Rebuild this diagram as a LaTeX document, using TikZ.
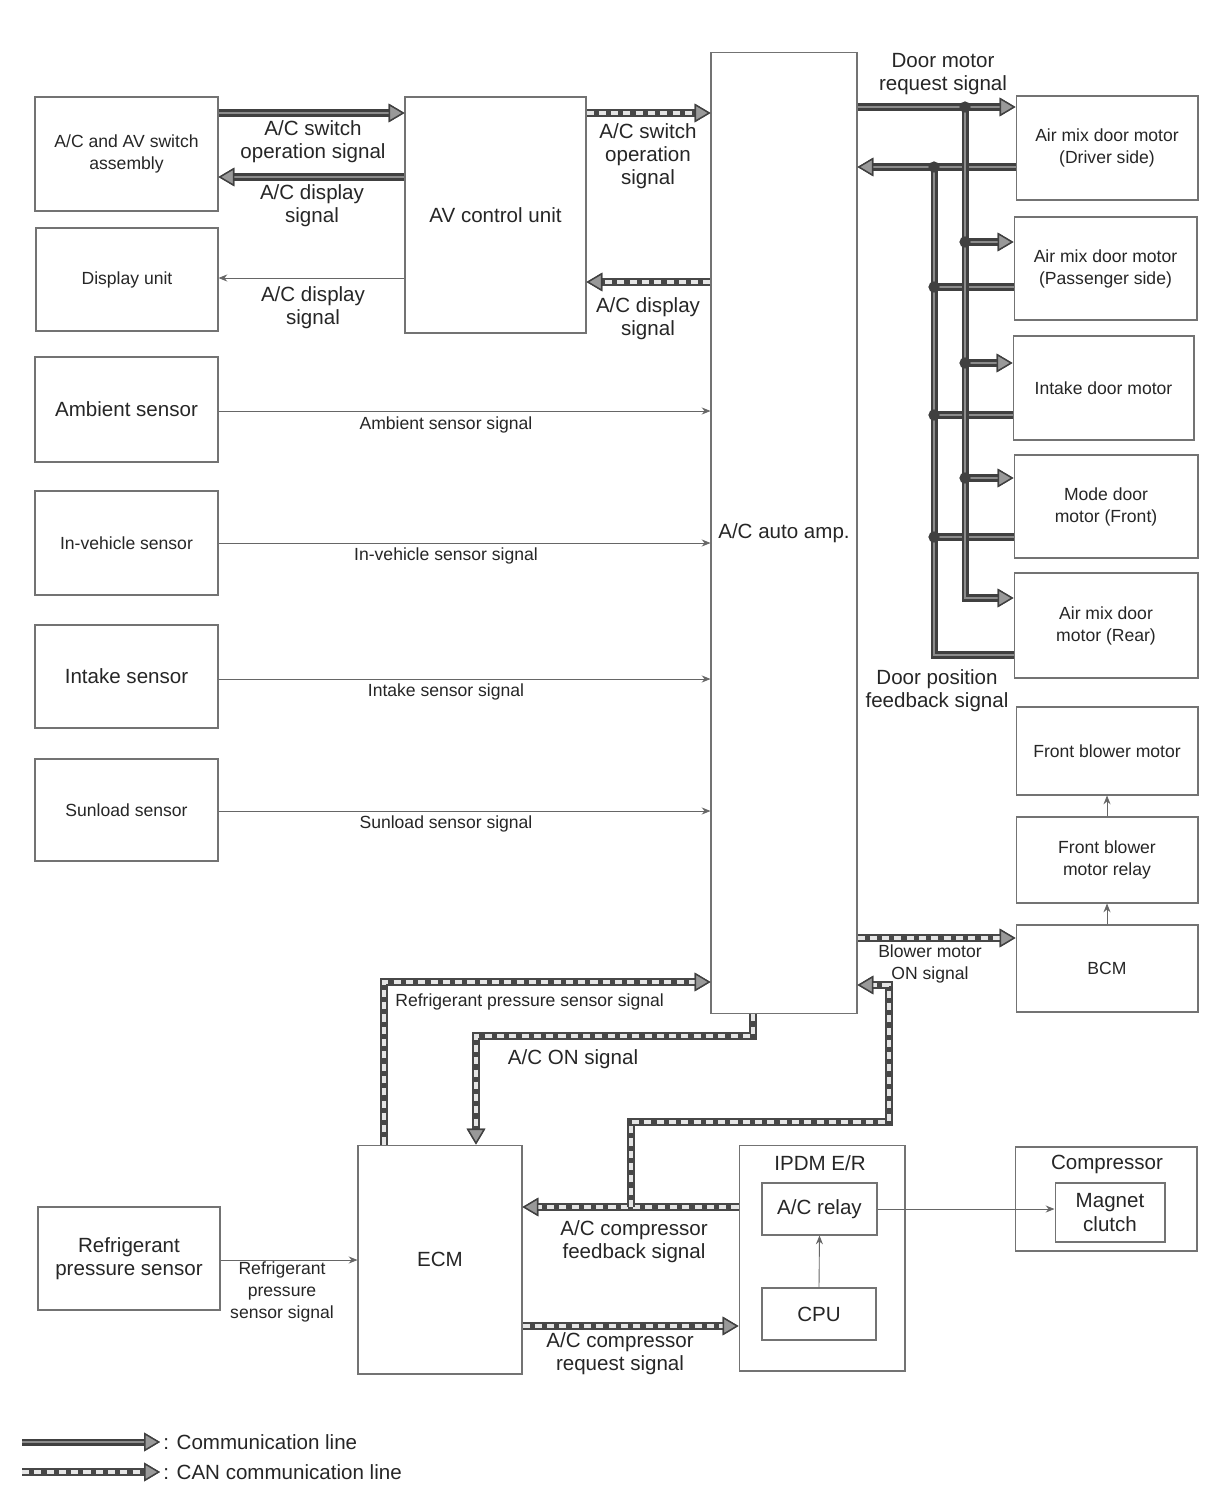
\documentclass[tikz,border=0pt]{standalone}
\usepackage{fontspec}
\setmainfont{Liberation Sans}
\usetikzlibrary{arrows.meta}

\newcommand\sigfont{\fontsize{10}{12.5}\selectfont}
\newcommand\bigfont{\fontsize{11.7}{13.2}\selectfont}

\tikzset{
  box/.style={draw=black!55, line width=0.6pt, align=center, text=black!85, font=\sigfont, inner sep=1pt},
  bigbox/.style={box, font=\bigfont},
  lbl/.style={align=center, text=black!85, font=\bigfont, inner sep=0pt},
  smalllbl/.style={lbl, font=\sigfont},
  sig/.style={draw=black!60, line width=0.5pt, -{Stealth[length=5pt,width=4pt]}},
  commline/.style={draw=black!75, line width=4pt, postaction={draw=black!45, line width=1.4pt}},
  canline/.style={draw=black!72, line width=4.4pt, postaction={draw=black!10, line width=2pt, dash pattern=on 4pt off 3pt}},
  bigtip/.style={-{Triangle[length=9pt,width=10.5pt,color=black!75,fill=black!40,line width=0.8pt]}},
  busdot/.style={fill=black!75},
}

\begin{document}
\begin{tikzpicture}[x=0.02cm,y=-0.02cm]
\fill[white] (0,0) rectangle (1216,1510);
\useasboundingbox (0,0) rectangle (1216,1510);

% left column
\node[box, minimum width=3.66cm, minimum height=2.28cm] (sw) at (126.5,154) {A/C and AV switch\\assembly};
\node[box, minimum width=3.64cm, minimum height=2.06cm] (disp) at (127,279.5) {Display unit};
\node[bigbox, minimum width=3.66cm, minimum height=2.10cm] (amb) at (126.5,409.5) {Ambient sensor};
\node[box, minimum width=3.66cm, minimum height=2.08cm] (inveh) at (126.5,543) {In-vehicle sensor};
\node[bigbox, minimum width=3.66cm, minimum height=2.06cm] (intk) at (126.5,676.5) {Intake sensor};
\node[box, minimum width=3.66cm, minimum height=2.04cm] (sun) at (126.5,810) {Sunload sensor};
\node[bigbox, minimum width=3.64cm, minimum height=2.06cm] (rps) at (129,1258.5) {Refrigerant\\pressure sensor};

% middle
\node[bigbox, minimum width=3.62cm, minimum height=4.72cm] (av) at (495.5,215) {AV control unit};
\node[bigbox, minimum width=2.92cm, minimum height=19.24cm] (amp) at (784,533) {A/C auto amp.};
\node[bigbox, minimum width=3.28cm, minimum height=4.58cm] (ecm) at (440,1259.5) {ECM};
\node[bigbox, minimum width=3.32cm, minimum height=4.52cm] (ipdm) at (822,1258) {};
\node[lbl] (ipdmtxt) at (820,1163) {IPDM E/R};
\node[bigbox, minimum width=2.30cm, minimum height=1.04cm] (acr) at (819.5,1209) {A/C relay};
\node[bigbox, minimum width=2.28cm, minimum height=1.04cm] (cpu) at (819,1314) {CPU};

% right column
\node[box, minimum width=3.64cm, minimum height=2.08cm] (drv) at (1107,148) {Air mix door motor\\(Driver side)};
\node[box, minimum width=3.66cm, minimum height=2.06cm] (pas) at (1105.5,268.5) {Air mix door motor\\(Passenger side)};
\node[box, minimum width=3.62cm, minimum height=2.08cm] (intkd) at (1103.5,388) {Intake door motor};
\node[box, minimum width=3.68cm, minimum height=2.06cm] (mode) at (1106,506.5) {Mode door\\motor (Front)};
\node[box, minimum width=3.68cm, minimum height=2.10cm] (rear) at (1106,625.5) {Air mix door\\motor (Rear)};
\node[box, minimum width=3.64cm, minimum height=1.76cm] (fbm) at (1107,751) {Front blower motor};
\node[box, minimum width=3.64cm, minimum height=1.72cm] (relay) at (1107,860) {Front blower\\motor relay};
\node[box, minimum width=3.64cm, minimum height=1.74cm] (bcm) at (1107,968.5) {BCM};
\node[bigbox, minimum width=3.64cm, minimum height=2.08cm] (comp) at (1106,1199) {};
\node[lbl] (comptxt) at (1107,1164) {Compressor};
\node[bigbox, minimum width=2.20cm, minimum height=1.18cm] (mag) at (1110,1212.5) {Magnet\\clutch};

% switch and AV unit
\draw[commline, bigtip] (sw.east |- 0,113) -- (av.west |- 0,113);
\draw[commline, bigtip] (av.west |- 0,177) -- (sw.east |- 0,177);
\draw[sig] (av.west |- 0,278) -- (disp.east |- 0,278);
\draw[canline, bigtip] (av.east |- 0,113) -- (amp.west |- 0,113);
\draw[canline, bigtip] (amp.west |- 0,282) -- (av.east |- 0,282);
\node[lbl] (swoplbl) at (313,142) {A/C switch\\operation signal};
\node[lbl] (displbl) at (312,206) {A/C display\\signal};
\node[lbl] (disp2lbl) at (313,308) {A/C display\\signal};
\node[lbl] (swop2lbl) at (648,156) {A/C switch\\operation\\signal};
\node[lbl] (disp3lbl) at (648,319) {A/C display\\signal};

% sensors
\draw[sig] (amb.east |- 0,411) -- (amp.west |- 0,411);
\draw[sig] (inveh.east |- 0,543) -- (amp.west |- 0,543);
\draw[sig] (intk.east |- 0,679) -- (amp.west |- 0,679);
\draw[sig] (sun.east |- 0,811) -- (amp.west |- 0,811);
\node[smalllbl] (amblbl) at (446,425) {Ambient sensor signal};
\node[smalllbl] (invehlbl) at (446,556) {In-vehicle sensor signal};
\node[smalllbl] (intklbl) at (446,692) {Intake sensor signal};
\node[smalllbl] (sunlbl) at (446,824) {Sunload sensor signal};

% door motors: feedback
\coordinate (fbbus) at (934,167);
\draw[commline, bigtip] (drv.west |- fbbus) -- (amp.east |- fbbus);
\draw[commline] (rear.west |- 0,655) -| (fbbus);
\foreach \y/\m in {287/pas,415/intkd,537/mode}
  \draw[commline] (\m.west |- 0,\y) -- (fbbus |- 0,\y);
\foreach \y in {167,287,415,537}
  \fill[busdot] (fbbus |- 0,\y) circle[radius=3.2pt];

% door motors: request
\coordinate (reqbus) at (965,107);
\draw[commline, bigtip] (amp.east |- reqbus) -- (drv.west |- reqbus);
\draw[commline, bigtip] (reqbus) |- (rear.west |- 0,598);
\foreach \y/\m in {242/pas,363/intkd,478/mode}
  \draw[commline, bigtip] (reqbus |- 0,\y) -- (\m.west |- 0,\y);
\foreach \y in {107,242,363,478}
  \fill[busdot] (reqbus |- 0,\y) circle[radius=3.2pt];
\node[lbl] (reqlbl) at (943,74) {Door motor\\request signal};
\node[lbl] (fblbl) at (937,691) {Door position\\feedback signal};

% blower
\draw[canline, bigtip] (amp.east |- 0,938) -- (bcm.west |- 0,938);
\draw[sig] (bcm.north) -- (relay.south);
\draw[sig] (relay.north) -- (fbm.south);
\node[smalllbl] (blwlbl) at (930,964) {Blower motor\\ON signal};

% ECM and IPDM E/R
\draw[canline, bigtip] (384,0 |- ecm.north) |- (amp.west |- 0,982);
\node[smalllbl, anchor=west] (rpslbl) at (395,1002) {Refrigerant pressure sensor signal};
\draw[canline, bigtip] (753,0 |- amp.south) |- (476,1036) -- (476,0 |- ecm.north);
\node[lbl] (aconlbl) at (573,1059) {A/C ON signal};
\coordinate (fbsplit) at (631,1207);
\draw[canline, bigtip] (ipdm.west |- fbsplit) -- (ecm.east |- fbsplit);
\draw[canline, bigtip] (fbsplit) |- (889,1122) -- (889,985) -- (amp.east |- 0,985);
\draw[canline, bigtip] (ecm.east |- 0,1326) -- (ipdm.west |- 0,1326);
\node[lbl] (cfblbl) at (634,1242) {A/C compressor\\feedback signal};
\node[lbl] (creqlbl) at (620,1354) {A/C compressor\\request signal};
\draw[sig] (rps.east |- 0,1260) -- (ecm.west |- 0,1260);
\node[smalllbl, text depth=0pt] (rps2lbl) at (282,1290) {\fontsize{10}{9.8}\selectfont Refrigerant\\pressure\\sensor signal};
\draw[sig] (cpu.north) -- (acr.south);
\draw[sig] (acr.east) -- (mag.west |- acr.east);

% legend
\coordinate (commA) at (22,1442);
\coordinate (commB) at (160,1442);
\draw[commline, bigtip] (commA) -- (commB);
\node[lbl, anchor=west] (commtxt) at (163,1442) {: Communication line};
\coordinate (canA) at (22,1472);
\coordinate (canB) at (160,1472);
\draw[canline, bigtip] (canA) -- (canB);
\node[lbl, anchor=west] (cantxt) at (163,1472) {: CAN communication line};
\end{tikzpicture}
\end{document}
